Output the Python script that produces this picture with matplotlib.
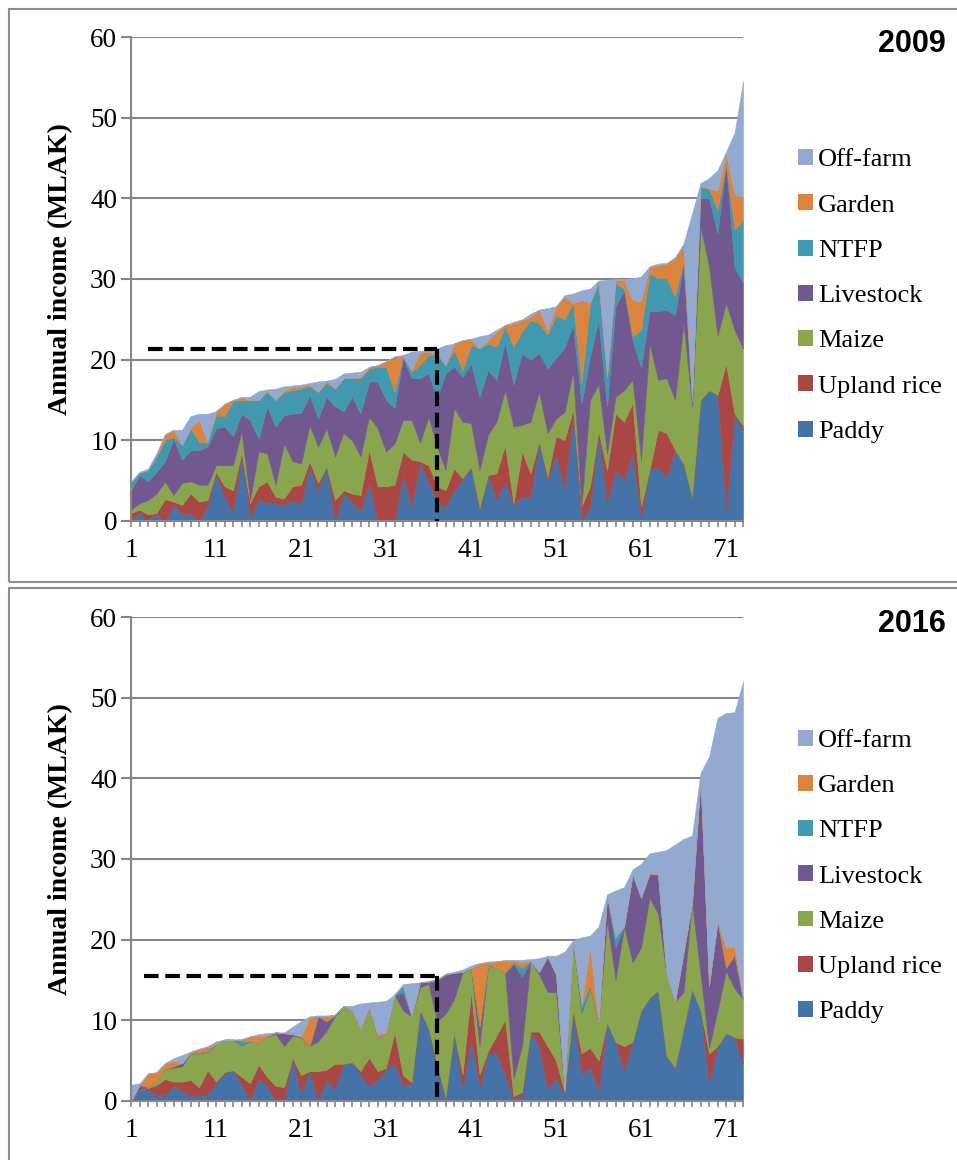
import matplotlib
matplotlib.use("Agg")
import matplotlib.pyplot as plt
import matplotlib.patches as mpatches
import numpy as np

plt.rcParams["font.family"] = ["Liberation Serif", "DejaVu Serif"]

# households ranked by total annual income
households = np.arange(1, 74)

sources = ["Paddy", "Upland rice", "Maize", "Livestock", "NTFP", "Garden", "Off-farm"]
colors = ["#4572A7", "#AA4643", "#89A54E", "#71588F", "#4198AF", "#DB843D", "#93A9CF"]

# ---- 2009 income by source (MLAK) ----
paddy_09 = [0.3, 1.0, 0.0, 0.9, 0.0, 2.0, 0.9, 0.9, 0.0, 1.8, 5.9, 3.0, 1.2, 8.2, 0.5, 2.6, 2.3, 2.2, 2.0, 2.6,
            2.2, 6.7, 3.8, 6.7, 0.1, 3.4, 2.4, 1.2, 4.7, 0.0, 0.0, 0.0, 5.7, 1.8, 7.3, 4.7, 2.4, 1.7, 3.8, 5.1,
            6.7, 1.4, 5.7, 2.6, 4.9, 2.0, 3.0, 3.0, 9.8, 4.9, 8.2, 4.0, 13.3, 0.1, 1.8, 10.9, 2.2, 6.3, 5.1, 8.4,
            0.5, 6.3, 6.7, 5.5, 8.8, 7.1, 3.0, 15.0, 16.2, 15.6, 1.4, 13.3, 11.3]
rice_09 = [0.7, 0.4, 0.8, 0.1, 2.7, 0.4, 1.1, 2.5, 2.4, 0.8, 0.2, 1.3, 2.6, 0.2, 1.7, 1.7, 2.6, 0.8, 0.8, 1.7,
           2.3, 0.7, 0.9, 0.0, 2.5, 0.4, 1.0, 2.0, 4.1, 4.3, 4.3, 4.5, 2.9, 5.8, 0.1, 2.2, 1.9, 2.1, 2.7, 0.2,
           0.0, 0.2, 0.0, 3.3, 4.5, 0.2, 5.6, 2.9, 0.0, 0.6, 2.3, 6.0, 0.5, 1.7, 2.5, 0.2, 4.1, 7.0, 7.2, 6.2,
           1.3, 0.0, 4.6, 5.4, 0.0, 0.0, 0.0, 0.0, 0.0, 0.0, 18.1, 0.0, 0.5]
maize_09 = [0.4, 0.8, 1.8, 2.4, 2.2, 0.8, 2.7, 1.5, 2.1, 1.9, 0.8, 2.6, 3.1, 2.7, 0.4, 4.3, 3.5, 1.5, 6.8, 3.1,
            2.6, 4.5, 4.5, 4.8, 5.4, 7.1, 6.6, 4.8, 4.1, 7.2, 4.3, 5.1, 3.9, 4.9, 2.3, 6.0, 4.9, 2.5, 7.5, 7.0,
            5.4, 4.7, 5.0, 6.4, 6.8, 9.5, 3.3, 6.4, 6.2, 5.4, 2.2, 3.5, 4.7, 0.0, 10.7, 5.8, 2.1, 2.1, 3.9, 2.9,
            5.8, 15.7, 6.2, 6.8, 6.2, 17.4, 11.2, 21.5, 15.3, 7.3, 7.5, 10.4, 9.6]
livestock_09 = [2.4, 3.5, 2.3, 2.7, 2.5, 7.0, 2.9, 3.9, 4.3, 4.7, 4.6, 4.8, 3.6, 2.2, 9.9, 1.6, 5.8, 7.2, 3.5, 5.9,
                6.3, 3.7, 3.5, 3.9, 6.2, 2.7, 5.4, 5.3, 4.4, 5.8, 6.4, 4.4, 7.7, 5.2, 8.0, 5.4, 6.0, 12.0, 5.1, 5.6,
                7.4, 9.1, 8.0, 5.2, 6.0, 5.2, 8.9, 7.7, 4.8, 8.0, 7.5, 8.0, 5.8, 12.8, 5.4, 8.0, 5.8, 11.2, 12.4, 4.9,
                11.5, 4.0, 8.5, 8.5, 10.5, 7.4, 0.4, 3.5, 8.5, 12.8, 17.3, 7.8, 8.1]
ntfp_09 = [1.0, 0.3, 1.4, 1.9, 2.6, 0.2, 1.8, 2.7, 1.0, 0.6, 1.6, 1.3, 4.4, 1.7, 2.5, 4.8, 1.8, 3.3, 2.9, 2.9,
           3.0, 1.1, 3.3, 1.7, 2.2, 4.1, 2.3, 4.4, 1.6, 1.8, 4.1, 2.0, 0.2, 0.8, 1.6, 2.3, 5.4, 1.0, 2.1, 0.8,
           2.3, 6.0, 3.3, 4.1, 1.9, 4.7, 2.7, 4.9, 3.7, 4.2, 5.3, 3.5, 2.7, 2.5, 6.6, 4.6, 3.7, 2.9, 0.2, 0.5,
           4.6, 4.7, 4.1, 3.9, 2.3, 0.4, 0.4, 1.4, 1.2, 2.9, 0.0, 4.6, 7.8]
garden_09 = [0.0, 0.0, 0.0, 0.2, 0.7, 0.9, 0.0, 0.0, 2.7, 0.0, 0.5, 1.5, 0.1, 0.3, 0.0, 0.0, 0.2, 0.0, 0.2, 0.4,
             0.3, 0.2, 0.0, 0.3, 0.0, 0.0, 0.0, 0.2, 0.2, 0.2, 0.7, 4.4, 0.0, 0.2, 1.6, 0.4, 0.2, 0.0, 0.8, 3.7,
             0.8, 0.0, 0.4, 1.9, 0.2, 2.9, 1.4, 0.4, 1.7, 0.6, 1.1, 2.8, 0.0, 10.3, 0.0, 0.2, 0.0, 0.4, 1.1, 4.5,
             3.5, 0.8, 1.6, 1.8, 4.8, 1.9, 0.0, 0.3, 0.0, 2.4, 1.3, 4.4, 2.9]
offfarm_09 = [0.1, 0.1, 0.2, 0.2, 0.1, 0.0, 1.9, 1.5, 0.8, 3.5, 0.0, 0.0, 0.0, 0.1, 0.4, 1.1, 0.1, 1.4, 0.5, 0.2,
              0.2, 0.2, 1.3, 0.0, 1.2, 0.6, 0.7, 0.6, 0.0, 0.0, 0.0, 0.0, 0.2, 2.3, 0.2, 0.2, 0.6, 2.5, 0.0, 0.0,
              0.0, 1.5, 0.7, 0.2, 0.0, 0.2, 0.1, 0.4, 0.0, 2.7, 0.0, 0.2, 1.2, 1.2, 1.8, 0.1, 12.0, 0.1, 0.1, 2.7,
              3.1, 0.1, 0.2, 0.1, 0.1, 0.2, 23.1, 0.2, 1.3, 2.5, 0.2, 7.6, 14.3]

# ---- 2016 income by source (MLAK) ----
paddy_16 = [0.0, 1.4, 1.4, 0.7, 0.7, 1.9, 1.2, 0.6, 0.8, 0.8, 2.2, 3.4, 3.8, 2.0, 0.1, 2.8, 1.9, 0.1, 0.1, 5.3,
            1.0, 3.7, 0.1, 2.6, 1.5, 4.6, 4.8, 3.2, 1.9, 2.6, 3.9, 4.6, 1.9, 2.1, 11.2, 9.0, 4.2, 0.2, 8.4, 1.5,
            7.7, 1.7, 5.9, 5.9, 3.3, 0.2, 0.6, 8.6, 6.8, 1.5, 2.8, 0.8, 11.2, 3.3, 4.2, 1.3, 9.7, 7.3, 3.7, 7.3,
            11.2, 12.8, 13.7, 5.5, 4.2, 9.0, 13.9, 11.2, 2.2, 6.8, 8.4, 7.9, 4.6]
rice_16 = [0.0, 0.0, 0.2, 1.3, 2.0, 0.5, 1.2, 2.0, 0.9, 3.0, 0.2, 0.2, 0.0, 1.0, 2.1, 1.7, 1.1, 1.8, 1.6, 0.0,
           2.2, 0.0, 3.6, 1.3, 3.1, 0.0, 0.0, 0.5, 3.5, 1.1, 0.2, 3.9, 1.3, 0.2, 0.0, 0.0, 0.4, 0.2, 0.0, 1.8,
           5.8, 1.6, 0.3, 2.2, 6.8, 0.4, 0.5, 0.0, 1.8, 5.3, 2.2, 0.3, 0.0, 2.6, 2.4, 3.7, 0.0, 0.0, 3.1, 0.0,
           0.0, 0.0, 0.0, 0.0, 0.0, 0.0, 0.0, 0.0, 3.7, 0.0, 0.0, 0.0, 3.1]
maize_16 = [0.0, 0.0, 0.1, 0.4, 1.3, 1.7, 1.9, 3.3, 4.2, 2.3, 4.7, 4.0, 3.8, 3.9, 5.2, 2.7, 5.0, 6.4, 5.1, 2.8,
            4.7, 3.1, 3.7, 4.8, 5.9, 7.2, 6.4, 5.3, 6.2, 4.2, 4.2, 4.7, 8.0, 8.2, 2.9, 5.5, 5.3, 10.4, 4.2, 12.6,
            3.0, 3.5, 10.6, 8.4, 5.8, 2.2, 5.7, 8.8, 7.1, 6.7, 8.5, 0.2, 8.7, 5.1, 7.5, 4.7, 12.6, 7.7, 14.8, 9.9,
            7.8, 12.4, 9.5, 10.2, 8.1, 4.5, 10.6, 4.5, 0.7, 4.4, 7.7, 6.0, 4.9]
livestock_16 = [0.0, 0.6, 0.0, 0.0, 0.0, 0.2, 0.4, 0.0, 0.0, 0.0, 0.0, 0.0, 0.0, 0.0, 0.0, 0.0, 0.0, 0.2, 1.6, 0.2,
                0.0, 0.0, 3.1, 1.2, 0.0, 0.0, 0.0, 0.0, 0.0, 0.0, 0.0, 0.0, 2.2, 0.0, 0.6, 0.3, 5.1, 4.9, 3.3, 0.1,
                0.0, 2.4, 0.1, 0.0, 0.0, 14.2, 8.6, 0.0, 0.3, 4.4, 2.2, 0.0, 0.0, 0.0, 0.0, 0.0, 3.1, 4.0, 0.0, 10.9,
                6.2, 2.9, 4.9, 0.0, 0.0, 4.8, 0.0, 24.3, 7.7, 11.1, 0.4, 4.2, 0.0]
ntfp_16 = [0.0, 0.0, 0.0, 0.0, 0.0, 0.0, 0.0, 0.0, 0.1, 0.1, 0.0, 0.0, 0.0, 0.6, 0.0, 0.0, 0.0, 0.0, 0.0, 0.0,
           0.1, 0.0, 0.0, 0.0, 0.2, 0.0, 0.0, 0.0, 0.0, 0.0, 0.0, 0.0, 0.9, 0.0, 0.0, 0.0, 0.0, 0.0, 0.0, 0.0,
           0.0, 0.0, 0.0, 0.0, 0.0, 0.2, 1.1, 0.0, 0.0, 0.0, 0.0, 0.0, 0.0, 0.9, 0.2, 0.0, 0.0, 1.3, 0.0, 0.0,
           0.0, 0.0, 0.0, 0.0, 0.0, 0.0, 0.0, 0.0, 0.0, 0.0, 0.0, 0.0, 0.0]
garden_16 = [0.0, 0.0, 1.7, 1.1, 0.7, 0.7, 0.0, 0.2, 0.4, 0.5, 0.0, 0.0, 0.0, 0.1, 0.6, 0.9, 0.2, 0.0, 0.0, 0.0,
             0.0, 3.6, 0.0, 0.6, 0.0, 0.0, 0.0, 0.0, 0.0, 0.4, 0.2, 0.0, 0.0, 0.0, 0.0, 0.0, 0.0, 0.0, 0.0, 0.0,
             0.0, 7.8, 0.3, 0.8, 1.5, 0.2, 0.7, 0.0, 0.0, 0.0, 0.0, 0.0, 0.0, 0.0, 4.9, 0.0, 0.0, 0.0, 0.0, 0.0,
             0.0, 0.2, 0.0, 0.0, 0.0, 0.2, 0.0, 0.0, 0.0, 0.0, 2.5, 1.1, 0.0]
offfarm_16 = [2.0, 0.2, 0.0, 0.1, 0.0, 0.3, 1.0, 0.0, 0.1, 0.1, 0.3, 0.0, 0.0, 0.1, 0.0, 0.2, 0.2, 0.0, 0.1, 0.9,
              1.9, 0.1, 0.1, 0.1, 0.0, 0.0, 0.6, 3.1, 0.6, 4.0, 3.9, 0.0, 0.2, 4.1, 0.0, 0.1, 0.1, 0.1, 0.1, 0.3,
              0.3, 0.1, 0.1, 0.0, 0.1, 0.1, 0.3, 0.2, 1.7, 0.1, 2.3, 17.2, 0.0, 8.4, 1.3, 11.9, 0.2, 5.8, 4.9, 0.6,
              4.2, 2.4, 2.8, 15.4, 19.5, 14.0, 8.4, 0.7, 28.4, 25.2, 29.1, 29.0, 39.4]

# median household and its income level (dashed guide)
median_hh = 37
median_09 = 21.3
median_16 = 15.5
guide_start = [3, 2.5]

GRAY = "#868686"


def draw_panel(ax, series, year, level, x0, legend_y):
    ax.stackplot(households, *series, colors=colors, labels=sources,
                 linewidth=0.4, edgecolor="face", zorder=2)

    # dashed guide to the median household
    ax.plot([x0, median_hh], [level, level], color="black", lw=3,
            dashes=(3.5, 1.6), zorder=4, solid_capstyle="butt")
    ax.plot([median_hh, median_hh], [level, 0], color="black", lw=3,
            dashes=(3.5, 1.6), zorder=4)

    ax.set_xlim(1, 73)
    ax.set_ylim(0, 60)
    ax.set_yticks(np.arange(0, 61, 10))
    ax.set_xticks(households)
    ax.set_xticklabels([str(h) if (h - 1) % 10 == 0 else "" for h in households])

    ax.set_axisbelow(True)
    ax.yaxis.grid(True, color=GRAY, linewidth=1.5)
    for side in ["top", "right"]:
        ax.spines[side].set_visible(False)
    for side in ["left", "bottom"]:
        ax.spines[side].set_color(GRAY)
        ax.spines[side].set_linewidth(1.5)
        ax.spines[side].set_zorder(3)

    ax.tick_params(axis="y", direction="out", length=7, width=1.5, color=GRAY,
                   labelsize=19.5, pad=3)
    ax.tick_params(axis="x", direction="out", length=4.5, width=1.2, color=GRAY,
                   labelsize=19.5, pad=8)

    ax.set_ylabel("Annual income (MLAK)", fontsize=20, fontweight="bold")
    ax.yaxis.set_label_coords(-0.095, 0.52)

    handles = [mpatches.Patch(facecolor=c, label=s) for s, c in zip(sources, colors)][::-1]
    ax.legend(handles=handles, loc="center left", bbox_to_anchor=(0.834, legend_y),
              bbox_transform=fig.transFigure, frameon=False, fontsize=19,
              handlelength=0.55, handleheight=0.55, handletextpad=0.2,
              labelspacing=0.87, borderpad=0, borderaxespad=0)

    ax.text(0.953, ax.get_position().y1 - 0.006, year, transform=fig.transFigure,
            ha="center", va="center", fontsize=22, fontweight="bold",
            family="Liberation Sans")


fig = plt.figure(figsize=(9.57, 11.6), dpi=100)

ax1 = fig.add_axes([0.1369, 0.5509, 0.6395, 0.4172])
ax2 = fig.add_axes([0.1369, 0.0509, 0.6395, 0.4172])

draw_panel(ax1, [paddy_09, rice_09, maize_09, livestock_09, ntfp_09, garden_09, offfarm_09],
           "2009", median_09, guide_start[0], 0.7448)
draw_panel(ax2, [paddy_16, rice_16, maize_16, livestock_16, ntfp_16, garden_16, offfarm_16],
           "2016", median_16, guide_start[1], 0.2444)

# panel frames
fig.add_artist(mpatches.Rectangle((9 / 957, 1 - 582 / 1160), 1.0, 573 / 1160,
                                  transform=fig.transFigure, fill=False,
                                  edgecolor="#8c8c8c", lw=1.5))
fig.add_artist(mpatches.Rectangle((9 / 957, -0.01), 1.0, 1 - 588 / 1160 + 0.01,
                                  transform=fig.transFigure, fill=False,
                                  edgecolor="#8c8c8c", lw=1.5))

fig.savefig("out.png", dpi=100)
plt.close()
